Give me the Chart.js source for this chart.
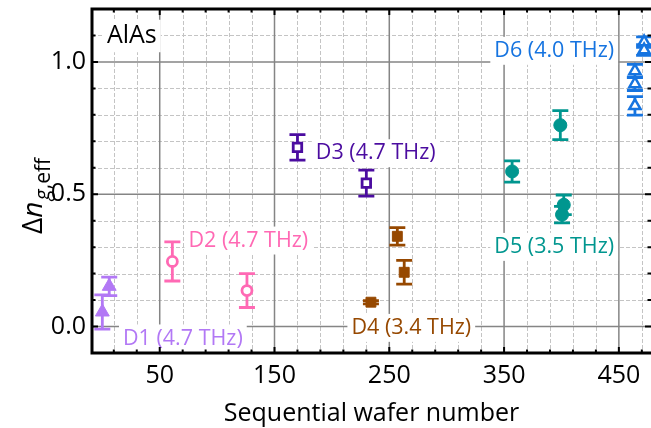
<!DOCTYPE html>
<html>
<head>
<meta charset="utf-8">
<script src="https://cdn.jsdelivr.net/npm/chart.js@4.4.0/dist/chart.umd.min.js"></script>
<style>
  html, body { margin: 0; padding: 0; background: #fff; }
  #wrap { width: 651px; height: 428px; }
</style>
</head>
<body>
<div id="wrap"><canvas id="chart" width="651" height="428"></canvas></div>
<script>
// ---- data ----
const d1X = [0, 6];
const d1Y = [0.055, 0.152];
const d1Err = [0.065, 0.035];

const d2X = [61, 126];
const d2Y = [0.246, 0.136];
const d2Err = [0.074, 0.064];

const d3X = [170, 230];
const d3Y = [0.677, 0.542];
const d3Err = [0.048, 0.049];

const d4X = [234, 257, 263];
const d4Y = [0.092, 0.341, 0.205];
const d4Err = [0.006, 0.033, 0.045];

const d5X = [357, 399, 402, 400.5];
const d5Y = [0.586, 0.761, 0.46, 0.423];
const d5Err = [0.04, 0.055, 0.037, 0.031];

const d6X = [464, 464, 464, 472, 472];
const d6Y = [0.966, 0.917, 0.834, 1.075, 1.045];
const d6Err = [0.025, 0.025, 0.035, 0.02, 0.02];

const xTicks = [50, 150, 250, 350, 450];
const yTicks = [0, 0.5, 1.0];

// annotation texts (data coordinates of left edge / vertical centre)
const notes = [
  { text: 'AlAs', x: 4, y: 1.098, color: '#000000', size: 25 },
  { text: 'D1 (4.7 THz)', x: 18, y: -0.045, color: '#b278f5', size: 21.5 },
  { text: 'D2 (4.7 THz)', x: 75, y: 0.325, color: '#ff69b4', size: 21.5 },
  { text: 'D3 (4.7 THz)', x: 186, y: 0.655, color: '#4b0ca0', size: 21.5 },
  { text: 'D4 (3.4 THz)', x: 217, y: -0.005, color: '#964800', size: 21.5 },
  { text: 'D5 (3.5 THz)', x: 341.5, y: 0.301, color: '#00968f', size: 21.5 },
  { text: 'D6 (4.0 THz)', x: 341.5, y: 1.042, color: '#1674e0', size: 21.5 }
];

const FONT = '"Open Sans", "DejaVu Sans", sans-serif';

function pts(xs, ys) {
  return xs.map((x, i) => ({ x: x, y: ys[i] }));
}

// ---- plugin: grid, notes, error bars, frame ----
const decor = {
  id: 'decor',
  beforeDraw(chart) {
    const ctx = chart.ctx;
    ctx.save();
    ctx.fillStyle = '#fff';
    ctx.fillRect(0, 0, chart.width, chart.height);
    ctx.restore();
  },
  beforeDatasetsDraw(chart) {
    const { ctx, chartArea: a, scales: { x, y } } = chart;
    ctx.save();
    // minor grid
    ctx.strokeStyle = '#c4c4c4';
    ctx.lineWidth = 1;
    ctx.setLineDash([4, 2]);
    for (let v = 10; v < 478; v += 20) {
      if (xTicks.includes(v)) continue;
      const px = Math.round(x.getPixelForValue(v)) + 0.5;
      ctx.beginPath(); ctx.moveTo(px, a.top); ctx.lineTo(px, a.bottom); ctx.stroke();
    }
    for (let k = 1; k <= 11; k++) {
      const v = k / 10;
      if (k === 5 || k === 10) continue;
      const py = Math.round(y.getPixelForValue(v)) + 0.5;
      ctx.beginPath(); ctx.moveTo(a.left, py); ctx.lineTo(a.right, py); ctx.stroke();
    }
    // major grid
    ctx.setLineDash([]);
    ctx.strokeStyle = '#858585';
    ctx.lineWidth = 1.5;
    xTicks.forEach(v => {
      const px = x.getPixelForValue(v);
      ctx.beginPath(); ctx.moveTo(px, a.top); ctx.lineTo(px, a.bottom); ctx.stroke();
    });
    yTicks.forEach(v => {
      const py = y.getPixelForValue(v);
      ctx.beginPath(); ctx.moveTo(a.left, py); ctx.lineTo(a.right, py); ctx.stroke();
    });

    // notes with white boxes
    ctx.textBaseline = 'middle';
    ctx.textAlign = 'left';
    notes.forEach(n => {
      ctx.font = n.size + 'px ' + FONT;
      const px = x.getPixelForValue(n.x);
      const py = y.getPixelForValue(n.y);
      const w = ctx.measureText(n.text).width;
      ctx.fillStyle = '#fff';
      ctx.fillRect(px - 4, py - n.size * 0.65, w + 8, n.size * 1.3);
      ctx.fillStyle = n.color;
      ctx.fillText(n.text, px, py);
    });

    // error bars
    chart.data.datasets.forEach(ds => {
      ctx.strokeStyle = ds.borderColor;
      ctx.lineWidth = 2.8;
      ds.data.forEach((p, i) => {
        const e = ds.errors[i];
        const px = x.getPixelForValue(p.x);
        const top = y.getPixelForValue(p.y + e);
        const bot = y.getPixelForValue(p.y - e);
        ctx.beginPath();
        ctx.moveTo(px, top); ctx.lineTo(px, bot);
        ctx.moveTo(px - 8, top); ctx.lineTo(px + 8, top);
        ctx.moveTo(px - 8, bot); ctx.lineTo(px + 8, bot);
        ctx.stroke();
      });
    });
    ctx.restore();
  },
  afterDatasetsDraw(chart) {
    const { ctx, chartArea: a, scales: { x, y } } = chart;
    ctx.save();
    ctx.strokeStyle = '#000';
    // ticks (inward)
    ctx.lineWidth = 2;
    for (let v = 10; v < 478; v += 20) {
      const px = x.getPixelForValue(v);
      const len = xTicks.includes(v) ? 6 : 3.5;
      ctx.beginPath();
      ctx.moveTo(px, a.bottom); ctx.lineTo(px, a.bottom - len);
      ctx.moveTo(px, a.top); ctx.lineTo(px, a.top + len);
      ctx.stroke();
    }
    for (let k = 0; k <= 11; k++) {
      const py = y.getPixelForValue(k / 10);
      const len = (k % 5 === 0) ? 6 : 3.5;
      ctx.beginPath();
      ctx.moveTo(a.left, py); ctx.lineTo(a.left + len, py);
      ctx.moveTo(a.right, py); ctx.lineTo(a.right - len, py);
      ctx.stroke();
    }
    // frame (left, top, bottom)
    ctx.lineWidth = 3;
    ctx.beginPath();
    ctx.moveTo(a.right + 2, a.top); ctx.lineTo(a.left, a.top);
    ctx.lineTo(a.left, a.bottom); ctx.lineTo(a.right + 2, a.bottom);
    ctx.stroke();

    // y title: Δn_{g,eff}
    const big = 28, small = 21;
    const parts = [
      { t: 'Δ', f: big + 'px ' + FONT, dy: 0, gap: 0 },
      { t: 'n', f: 'italic ' + big + 'px ' + FONT, dy: 0, gap: 0 },
      { t: 'g', f: 'italic ' + small + 'px ' + FONT, dy: 8, gap: 1.5 },
      { t: ',eff', f: small + 'px ' + FONT, dy: 8, gap: 0 }
    ];
    let total = 0;
    parts.forEach(p => { ctx.font = p.f; p.w = ctx.measureText(p.t).width; total += p.w + p.gap; });
    ctx.translate(42, 196 + total / 2);
    ctx.rotate(-Math.PI / 2);
    ctx.fillStyle = '#000';
    ctx.textBaseline = 'alphabetic';
    ctx.textAlign = 'left';
    let cx = 0;
    parts.forEach(p => { ctx.font = p.f; cx += p.gap; ctx.fillText(p.t, cx, p.dy); cx += p.w; });
    ctx.restore();
  }
};

const datasets = [
  { label: 'D1', data: pts(d1X, d1Y), errors: d1Err, borderColor: '#b278f5', backgroundColor: '#b278f5',
    pointStyle: 'triangle', pointRadius: 8, borderWidth: 1 },
  { label: 'D2', data: pts(d2X, d2Y), errors: d2Err, borderColor: '#ff69b4', backgroundColor: '#ffffff',
    pointStyle: 'circle', pointRadius: 5, borderWidth: 2.8 },
  { label: 'D3', data: pts(d3X, d3Y), errors: d3Err, borderColor: '#4b0ca0', backgroundColor: '#ffffff',
    pointStyle: 'rect', pointRadius: 6, borderWidth: 2.8 },
  { label: 'D4', data: pts(d4X, d4Y), errors: d4Err, borderColor: '#964800', backgroundColor: '#964800',
    pointStyle: 'rect', pointRadius: 7, borderWidth: 1 },
  { label: 'D5', data: pts(d5X, d5Y), errors: d5Err, borderColor: '#00968f', backgroundColor: '#00968f',
    pointStyle: 'circle', pointRadius: 6.5, borderWidth: 1 },
  { label: 'D6', data: pts(d6X, d6Y), errors: d6Err, borderColor: '#1674e0', backgroundColor: '#ffffff',
    pointStyle: 'triangle', pointRadius: 6.5, borderWidth: 2.5 }
];

new Chart(document.getElementById('chart').getContext('2d'), {
  type: 'scatter',
  data: { datasets: datasets },
  options: {
    responsive: false,
    animation: false,
    devicePixelRatio: 1,
    layout: { autoPadding: false, padding: { top: 9, right: 0, bottom: 0, left: 0 } },
    plugins: { legend: { display: false }, tooltip: { enabled: false } },
    scales: {
      x: {
        type: 'linear', position: 'bottom', min: -9, max: 478,
        grid: { display: false, drawTicks: false }, border: { display: false },
        afterBuildTicks: s => { s.ticks = xTicks.map(v => ({ value: v })); },
        afterFit: s => { s.height = 75; s.paddingLeft = 0; s.paddingRight = 0; },
        ticks: { color: '#000', padding: 8, maxRotation: 0, autoSkip: false,
                 font: { family: FONT, size: 25 } },
        title: { display: true, text: 'Sequential wafer number', color: '#000',
                 font: { family: FONT, size: 25 }, padding: { top: 0, bottom: -1 } }
      },
      y: {
        type: 'linear', position: 'left', min: -0.1, max: 1.2,
        grid: { display: false, drawTicks: false }, border: { display: false },
        afterBuildTicks: s => { s.ticks = yTicks.map(v => ({ value: v })); },
        afterFit: s => { s.width = 92; s.paddingTop = 0; s.paddingBottom = 0; },
        ticks: { color: '#000', padding: 6, font: { family: FONT, size: 25 },
                 callback: v => v.toFixed(1) }
      }
    }
  },
  plugins: [decor]
});
</script>
</body>
</html>
